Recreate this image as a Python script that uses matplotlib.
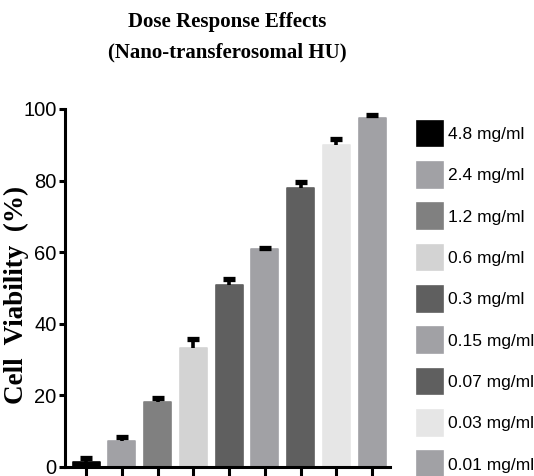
import matplotlib
matplotlib.use("Agg")
import matplotlib.pyplot as plt

doses = ["4.8 mg/ml", "2.4 mg/ml", "1.2 mg/ml", "0.6 mg/ml", "0.3 mg/ml",
         "0.15 mg/ml", "0.07 mg/ml", "0.03 mg/ml", "0.01 mg/ml"]
viability = [1.2, 7.2, 18.2, 33.3, 50.8, 60.8, 78.0, 89.9, 97.4]
sem = [1.2, 1.0, 0.9, 2.5, 1.7, 0.4, 1.7, 1.8, 0.9]
colors = ["#000000", "#a1a1a5", "#808080", "#d3d3d3", "#5f5f5f",
          "#a1a1a5", "#5f5f5f", "#e6e6e6", "#a1a1a5"]
yticks = [0, 20, 40, 60, 80, 100]

sans = "Liberation Sans"

fig = plt.figure(figsize=(5.34, 4.76), dpi=100)
ax = fig.add_axes([65/534, 1-466.7/476, 325/534, (466.7-109)/476])

x = list(range(len(viability)))
bars = ax.bar(x, viability, width=0.76, color=colors, edgecolor=colors,
              linewidth=1.2, joinstyle="round", zorder=2)
_, caps, _ = ax.errorbar(x, viability, yerr=[[0]*len(sem), sem], fmt="none",
                         ecolor="black", elinewidth=2.6, capsize=4.4,
                         capthick=3.8, zorder=3, clip_on=False)
caps[0].set_visible(False)  # only the upper half of the error bar is shown

ax.set_xlim(-0.59, 8.5)
ax.set_ylim(0, 100)
ax.set_yticks(yticks)
ax.set_yticklabels([str(t) for t in yticks], family=sans, fontsize=14.5)
ax.set_xticks(x)
ax.set_xticklabels([])
for s in ["top", "right"]:
    ax.spines[s].set_visible(False)
for s in ["left", "bottom"]:
    ax.spines[s].set_linewidth(2.2)
ax.tick_params(axis="y", length=4, width=2.2, pad=2)
ax.tick_params(axis="x", length=8, width=2.2)

ax.set_ylabel("Cell  Viability  (%)", family="Liberation Serif", fontweight="bold",
              fontsize=19.5)
ax.yaxis.set_label_coords(29/534, 1-295/476, transform=fig.transFigure)

fig.text(227/534, 1-22/476, "Dose Response Effects", family="Liberation Serif",
         fontweight="bold", fontsize=15, ha="center", va="center")
fig.text(227/534, 1-52/476, "(Nano-transferosomal HU)", family="Liberation Serif",
         fontweight="bold", fontsize=15, ha="center", va="center")

leg = ax.legend(bars, doses, loc="upper left", bbox_to_anchor=(408/534, 1-112/476),
                bbox_transform=fig.transFigure, frameon=False, borderpad=0,
                handlelength=1.5, handleheight=1.9, handletextpad=0.3,
                labelspacing=0.9, prop={"family": sans, "size": 12.5})

fig.savefig("out.png", dpi=100)
